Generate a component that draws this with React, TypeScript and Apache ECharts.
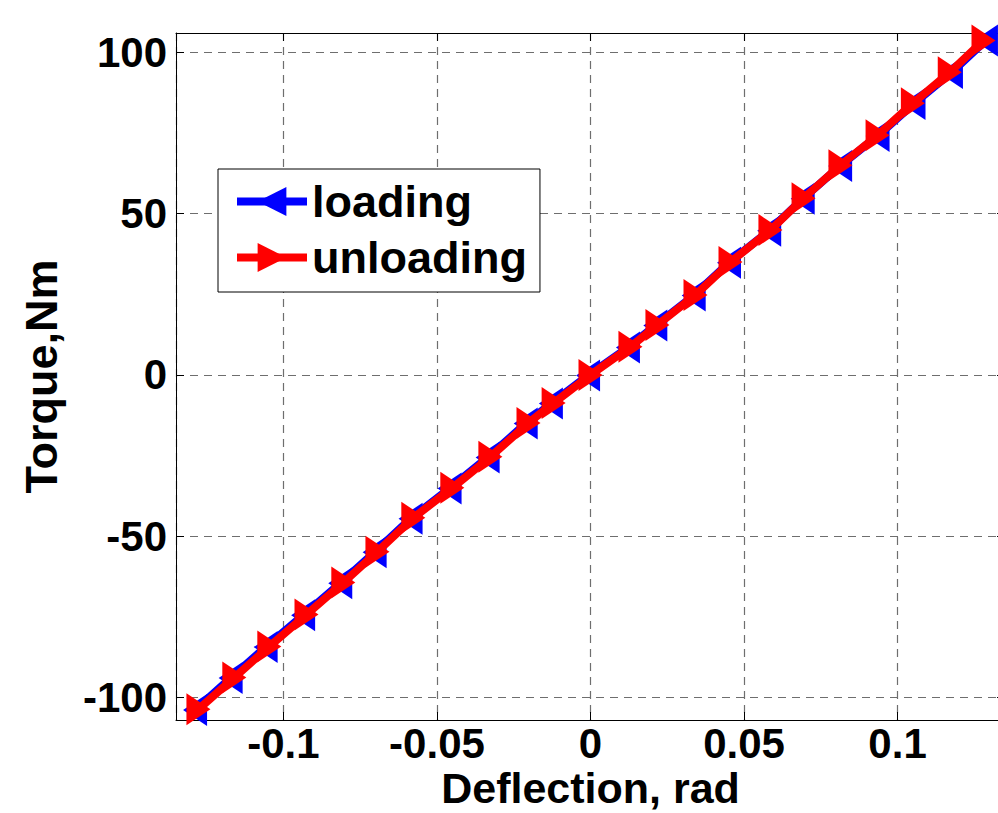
import React, { useEffect, useRef } from "react";
import * as echarts from "echarts";

// Deflection (rad) and torque (Nm)
const unloadingDeflection = [-0.1277, -0.116, -0.1046, -0.0925, -0.0805, -0.0694, -0.0577, -0.045, -0.0326, -0.0202, -0.012, 0.0, 0.013, 0.0218, 0.0342, 0.0456, 0.0586, 0.0694, 0.0814, 0.0935, 0.105, 0.117, 0.128];
const unloadingTorque = [-103.7, -93.8, -84.2, -74.3, -64.4, -54.8, -44.3, -35.0, -25.4, -14.9, -8.7, 0.0, 8.7, 15.5, 24.8, 35.0, 44.9, 54.8, 65.0, 74.3, 84.2, 93.8, 103.7];

const loadingDeflection = [-0.1288, -0.1172, -0.1058, -0.0936, -0.0815, -0.0703, -0.0586, -0.0459, -0.0335, -0.0211, -0.0129, -0.0008, 0.0122, 0.0211, 0.0336, 0.0451, 0.0582, 0.0691, 0.0813, 0.0935, 0.1052, 0.1174, 0.1288];
const loadingTorque = [-103.9, -94.0, -84.4, -74.5, -64.6, -55.0, -44.6, -35.2, -25.6, -15.1, -8.9, -0.2, 8.5, 15.3, 24.6, 34.8, 44.7, 54.6, 64.8, 74.1, 84.0, 93.6, 103.7];

const seriesNames = ["loading", "unloading"];
const xAxisTitle = "Deflection, rad";
const yAxisTitle = "Torque,Nm";

const FONT = '"Liberation Sans", Arial, Helvetica, sans-serif';

export default function App() {
  const ref = useRef<HTMLDivElement>(null);

  useEffect(() => {
    if (!ref.current) return;
    const chart = echarts.init(ref.current, null, { renderer: "svg" });

    const gridLine = { show: true, lineStyle: { color: "#6e6e6e", width: 1.2, type: [8, 6] as any } };
    const axisLine = { show: true, onZero: false, lineStyle: { color: "#000", width: 1 } };
    const tick = { show: true, inside: true, length: 8, lineStyle: { color: "#000", width: 1 } };
    const label = { color: "#000", fontSize: 42, fontWeight: "bold", fontFamily: FONT };

    const loadingData = loadingDeflection.map((x, i) => [x, loadingTorque[i]]);
    const unloadingData = unloadingDeflection.map((x, i) => [x, unloadingTorque[i]]);

    chart.setOption({
      animation: false,
      backgroundColor: "#fff",
      textStyle: { fontFamily: FONT },
      grid: { left: 176, top: 33, right: -7, bottom: 93, containLabel: false, outerBoundsMode: "none" },
      legend: {
        data: seriesNames,
        orient: "vertical",
        left: 218,
        top: 169,
        backgroundColor: "#fff",
        borderColor: "#000",
        borderWidth: 1,
        borderRadius: 0,
        padding: [10, 13, 12, 15],
        itemGap: 11,
        itemWidth: 70,
        itemHeight: 36,
        lineStyle: { width: 8 },
        textStyle: { color: "#000", fontSize: 45, fontWeight: "bold", fontFamily: FONT },
      },
      xAxis: [
        {
          type: "value",
          position: "bottom",
          min: -0.135,
          max: 0.135,
          splitNumber: 5,
          axisLine,
          axisTick: tick,
          splitLine: gridLine,
          axisLabel: { ...label, margin: 2, showMinLabel: false, showMaxLabel: false },
          name: xAxisTitle,
          nameLocation: "middle",
          nameGap: 46,
          nameMoveOverlap: false,
          nameTextStyle: { color: "#000", fontSize: 43, fontWeight: "bold", fontFamily: FONT },
        },
        {
          type: "value",
          position: "top",
          min: -0.135,
          max: 0.135,
          splitNumber: 5,
          axisLine,
          axisTick: tick,
          splitLine: { show: false },
          axisLabel: { show: false },
        },
      ],
      yAxis: [
        {
          type: "value",
          position: "left",
          min: -107,
          max: 106,
          splitNumber: 5,
          axisLine,
          axisTick: tick,
          splitLine: gridLine,
          axisLabel: { ...label, margin: 9, showMinLabel: false, showMaxLabel: false },
          name: yAxisTitle,
          nameLocation: "middle",
          nameGap: 112,
          nameMoveOverlap: false,
          nameTextStyle: { color: "#000", fontSize: 45, fontWeight: "bold", fontFamily: FONT },
        },
        {
          type: "value",
          position: "right",
          min: -107,
          max: 106,
          splitNumber: 5,
          axisLine,
          axisTick: tick,
          splitLine: { show: false },
          axisLabel: { show: false },
        },
      ],
      series: [
        {
          name: seriesNames[0],
          type: "line",
          data: loadingData,
          symbol: "triangle",
          symbolSize: [32, 24],
          symbolRotate: 90,
          showAllSymbol: true,
          clip: false,
          z: 2,
          lineStyle: { color: "#0000ff", width: 8 },
          itemStyle: { color: "#0000ff", borderWidth: 0 },
          emphasis: { disabled: true },
        },
        {
          name: seriesNames[1],
          type: "line",
          data: unloadingData,
          symbol: "triangle",
          symbolSize: [32, 24],
          symbolRotate: -90,
          showAllSymbol: true,
          clip: false,
          z: 3,
          lineStyle: { color: "#ff0000", width: 8 },
          itemStyle: { color: "#ff0000", borderWidth: 0 },
          emphasis: { disabled: true },
        },
      ],
    });

    return () => chart.dispose();
  }, []);

  return (
    <div
      ref={ref}
      style={{ position: "fixed", left: 0, top: 0, width: 998, height: 813, overflow: "hidden" }}
    />
  );
}
